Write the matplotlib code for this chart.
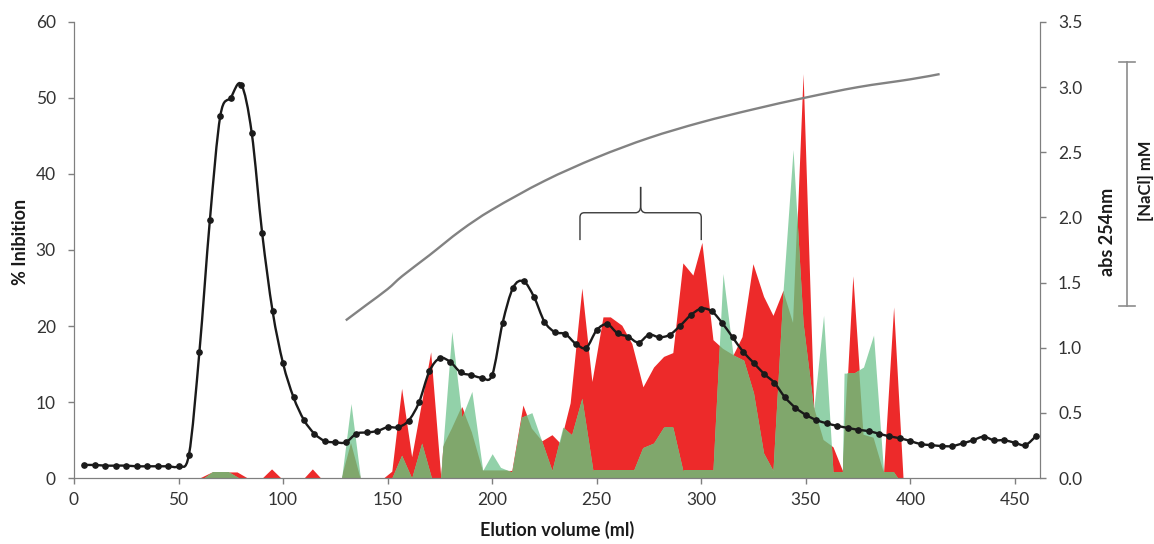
import numpy as np
import matplotlib.pyplot as plt
from matplotlib.path import Path
from matplotlib.patches import PathPatch
from matplotlib.lines import Line2D

plt.rcParams['font.family'] = ['Lato', 'DejaVu Sans']

# abs 254nm, one reading every 5 ml (right axis)
abs_x = np.arange(5, 465, 5)
abs_254 = [0.10, 0.10, 0.095, 0.095, 0.095, 0.09, 0.09, 0.09, 0.09, 0.09,
           0.18, 0.97, 1.98, 2.78, 2.92, 3.02, 2.65, 1.88, 1.28, 0.88,
           0.62, 0.445, 0.34, 0.284, 0.274, 0.274, 0.34, 0.35, 0.36, 0.39,
           0.39, 0.44, 0.58, 0.82, 0.92, 0.89, 0.81, 0.79, 0.77, 0.79,
           1.19, 1.46, 1.51, 1.39, 1.20, 1.12, 1.105, 1.03, 1.00, 1.135,
           1.18, 1.11, 1.085, 1.04, 1.10, 1.08, 1.10, 1.17, 1.25, 1.30,
           1.28, 1.19, 1.08, 0.97, 0.885, 0.80, 0.73, 0.62, 0.54, 0.485,
           0.445, 0.42, 0.40, 0.385, 0.37, 0.36, 0.34, 0.32, 0.305, 0.284,
           0.26, 0.253, 0.245, 0.245, 0.266, 0.29, 0.317, 0.29, 0.29, 0.27,
           0.253, 0.32]

# NaCl gradient (drawn against the right axis scale)
nacl_x = [130, 140, 150, 157, 170, 185, 200, 225, 250, 275, 300, 325, 350, 375, 400, 414]
nacl_y = [1.21, 1.33, 1.45, 1.55, 1.71, 1.90, 2.06, 2.28, 2.46, 2.61, 2.73, 2.83, 2.92, 3.00, 3.06, 3.10]

# % inhibition, red series
red_x = [60, 66, 78, 83, 90, 94.5, 99, 110, 114, 118, 128, 132.5, 137, 148, 152, 156.7,
         161.5, 170.6, 175.4, 176.4, 180.7, 185.5, 190.3, 195.5, 200, 204, 209.4, 214.7,
         219, 223.8, 228.6, 232.5, 237.3, 242.9, 247.7, 253, 256.5, 262, 266.8, 272.1,
         277.2, 282, 286.4, 291.2, 296, 300.3, 305.6, 310.4, 315.2, 319.5, 324.7, 329.8,
         334.3, 339.1, 343.9, 348.7, 353.8, 358.5, 363, 367.5, 372.5, 377.6, 382.4, 387.2,
         392, 396.5]
red_y = [0, 0.8, 0.8, 0, 0, 1.2, 0, 0, 1.2, 0, 0, 4.6, 0, 0, 0.9, 11.8,
         2.8, 16.6, 0.2, 4.1, 6.5, 9.4, 6, 1, 1, 1, 1, 9.6,
         6.5, 4.9, 5.7, 4.6, 9.9, 25, 12.7, 21.2, 21.2, 20.1, 17.7, 12,
         14.6, 16, 16.5, 28.3, 26.7, 31, 18.2, 17, 16.2, 18.6, 28.2, 23.9,
         21.4, 24.7, 20.4, 53.2, 9.4, 5, 4.1, 1, 26.6, 5.7, 5.3, 0.8,
         22.5, 0]

# % inhibition, green series
green_x = [62, 66, 74, 79, 128, 132.5, 137, 152, 156.7, 161.5, 166.3, 171, 175.4, 176.4,
           180.7, 185.5, 190.3, 195.5, 200, 204, 209.4, 214, 219, 228.6, 233.8, 238,
           242.9, 248.2, 267.6, 272, 277.2, 282, 286.4, 291.2, 305.6, 310.4, 315.2, 320.3,
           325, 329.8, 334.3, 339.1, 343.9, 348.7, 353.8, 358.5, 363, 367.5, 368.3,
           372.9, 377.6, 382.4, 387.2, 392, 394]
green_y = [0, 0.8, 0.8, 0, 0, 9.8, 0, 0, 3, 0, 4.6, 0, 0, 4,
           19.3, 8, 11.4, 1, 3.2, 1.4, 0.8, 8, 8.6, 1, 6.7, 5.7,
           10.5, 1, 1, 4, 4.6, 6.7, 6.7, 1, 1, 26.9, 16.2, 15.5,
           11.2, 3.3, 1, 24.5, 43.2, 20.4, 9, 21.4, 0.8, 0.8, 13.8,
           13.8, 14.6, 18.8, 0.8, 0.8, 0]


def smooth_path(x, y):
    # Catmull-Rom through the points, written as cubic Bezier segments
    pts = np.column_stack([x, y]).astype(float)
    n = len(pts)
    verts = [pts[0]]
    codes = [Path.MOVETO]
    for i in range(n - 1):
        p0 = pts[max(i - 1, 0)]
        p1 = pts[i]
        p2 = pts[i + 1]
        p3 = pts[min(i + 2, n - 1)]
        verts += [p1 + (p2 - p0) / 6, p2 - (p3 - p1) / 6, p2]
        codes += [Path.CURVE4] * 3
    return Path(verts, codes)


fig = plt.figure(figsize=(11.54, 5.44), dpi=100)
ax = fig.add_axes([0.0641, 0.1213, 0.8371, 0.8383])
ax2 = ax.twinx()

red_fill = ax.fill_between(red_x, red_y, 0, color='#ED2A2A', lw=0)
ax.fill_between(green_x, green_y, 0, color='#92D1A9', lw=0)
# where the two overlap the green turns olive
overlap = ax.fill_between(green_x, green_y, 0, color='#80A76C', lw=0)
overlap.set_clip_path(red_fill.get_paths()[0], ax.transData)

ax2.add_patch(PathPatch(smooth_path(nacl_x, nacl_y), fc='none', ec='#828282', lw=1.7))
ax2.add_patch(PathPatch(smooth_path(abs_x, abs_254), fc='none', ec='#1a1a1a', lw=1.7))
ax2.plot(abs_x, abs_254, 'o', color='#1a1a1a', ms=3.8, lw=0)

# brace over the 242-300 ml fractions
bx0, bx1, by0, by1, tip = 242, 300, 31.3, 34.9, 38.3
bm = (bx0 + bx1) / 2
for s, xe in ((1, bx0), (-1, bx1)):
    verts = [(xe, by0), (xe, by1 - 0.6), (xe, by1), (xe + s * 2, by1),
             (bm - s * 2.5, by1), (bm, by1), (bm, by1 + 0.9), (bm, tip)]
    codes = [Path.MOVETO, Path.LINETO, Path.CURVE3, Path.CURVE3,
             Path.LINETO, Path.CURVE3, Path.CURVE3, Path.LINETO]
    ax.add_patch(PathPatch(Path(verts, codes), fc='none', ec='#3a3a3a', lw=1.0))

ax.set_xlim(0, 462)
ax.set_ylim(0, 60)
ax2.set_ylim(0, 3.5)
ax.set_xticks(range(0, 451, 50))
ax.set_yticks(range(0, 61, 10))
ax2.set_yticks(np.arange(0, 3.51, 0.5))
ax2.set_yticklabels(['%.1f' % v for v in np.arange(0, 3.51, 0.5)])

for a in (ax, ax2):
    for side in a.spines:
        a.spines[side].set_color('#7f7f7f')
    a.spines['top'].set_visible(False)
    a.tick_params(colors='#7f7f7f', labelcolor='#333333', labelsize=12.5, length=4, width=1)
ax.tick_params(axis='y', pad=9)
ax2.tick_params(axis='y', pad=9)
ax.tick_params(axis='x', pad=6)

fig.text(0.018, 0.555, '% Inibition', rotation=90, ha='center', va='center',
         fontsize=13, fontweight='bold', color='#1a1a1a')
fig.text(0.483, 0.026, 'Elution volume (ml)', ha='center', va='center',
         fontsize=13, fontweight='bold', color='#1a1a1a')
fig.text(0.960, 0.573, 'abs 254nm', rotation=90, ha='center', va='center',
         fontsize=13, fontweight='bold', color='#1a1a1a')
fig.text(0.9935, 0.668, '[NaCl] mM', rotation=90, ha='center', va='center',
         fontsize=12, fontweight='bold', color='#1a1a1a')

# NaCl scale bar
bar_x, bar_top, bar_bot, cap = 0.9766, 0.886, 0.4375, 0.007
for seg in (([bar_x, bar_x], [bar_bot, bar_top]),
            ([bar_x - cap, bar_x + cap], [bar_top, bar_top]),
            ([bar_x - cap, bar_x + cap], [bar_bot, bar_bot])):
    fig.add_artist(Line2D(seg[0], seg[1], color='#8c8c8c', lw=1.2))

fig.savefig('out.png', dpi=100)
